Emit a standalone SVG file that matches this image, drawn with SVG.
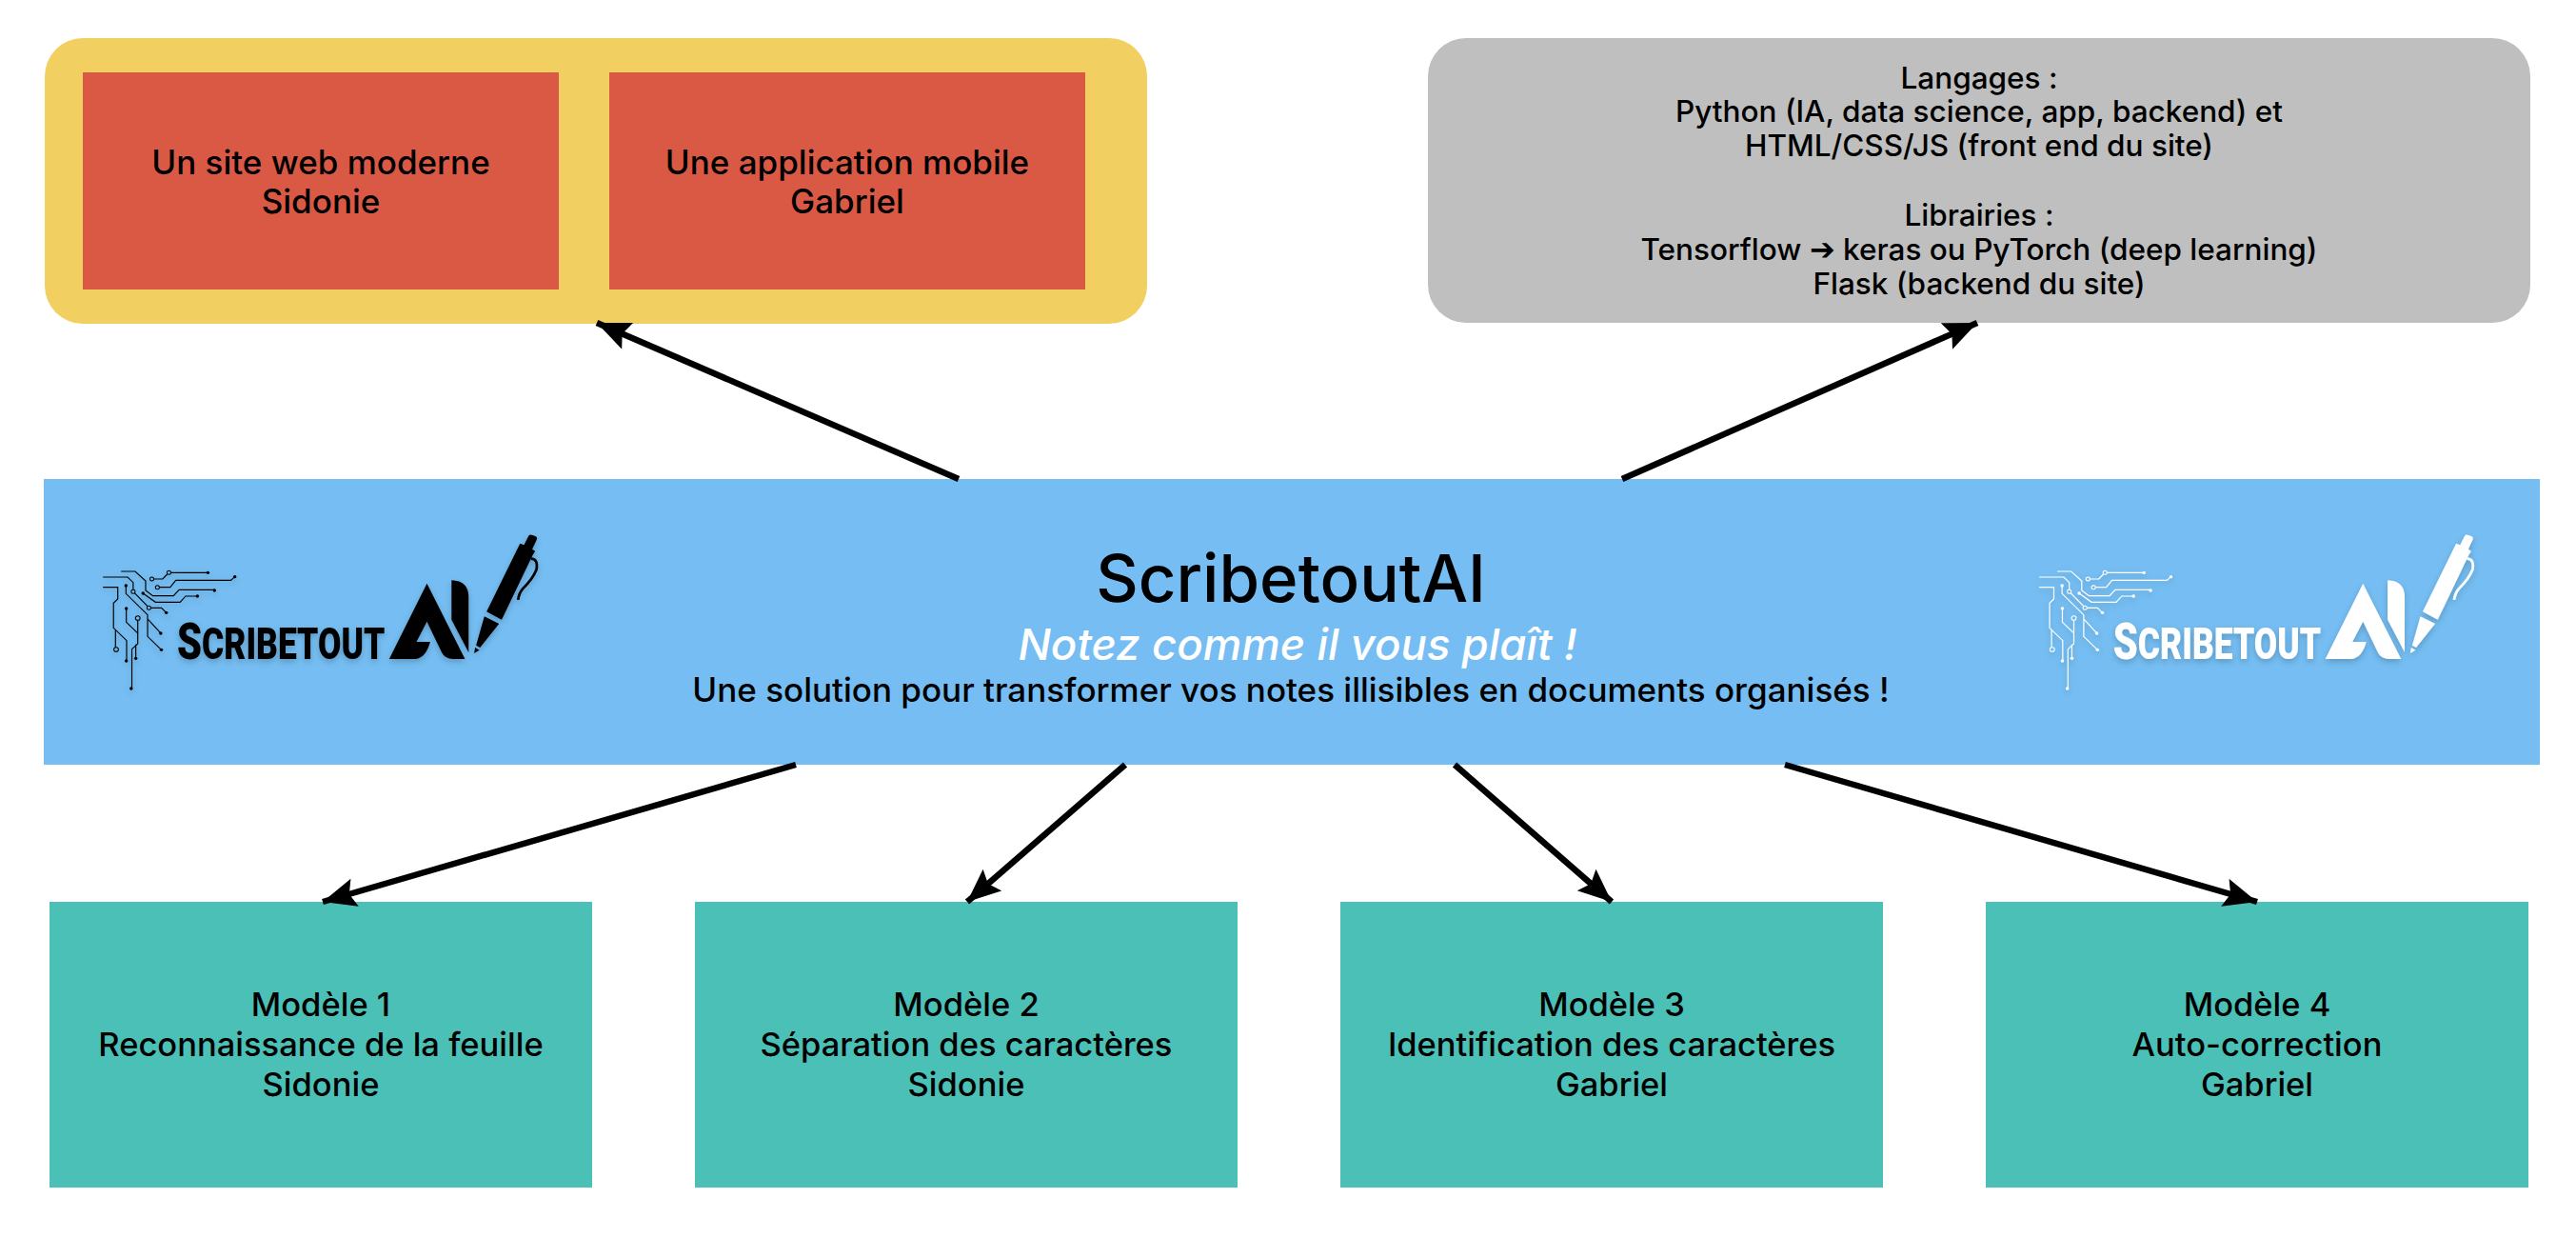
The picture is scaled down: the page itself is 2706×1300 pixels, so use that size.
<svg xmlns="http://www.w3.org/2000/svg" width="2706" height="1300" viewBox="0 0 2706 1300">
<style>
text{font-family:"Inter","Liberation Sans",sans-serif;font-weight:500;fill:#000;text-anchor:middle}
.t{font-size:34.5px}
.u{font-size:35px}
.g{font-size:31.5px}
.red{fill:#DA5945}
.teal{fill:#4BC0B6}
.line{stroke:#000;stroke-width:6.5;fill:none;marker-end:url(#ah)}
.logo-b{color:#000}
.logo-w{color:#fff}
.c{fill:none;stroke:currentColor;stroke-width:3.4}
.d{fill:currentColor}
.r{fill:none;stroke:currentColor;stroke-width:3}
.lt{font-family:"Roboto","Liberation Sans",sans-serif;font-weight:900;fill:currentColor;text-anchor:start}
</style>
<defs>
<marker id="ah" markerUnits="userSpaceOnUse" markerWidth="38" markerHeight="32" refX="35" refY="15" orient="auto">
<path d="M0,0 L35,15 L0,30 L6,15 Z" fill="#000"/>
</marker>
<filter id="ds" x="-10%" y="-10%" width="120%" height="120%"><feDropShadow dx="0" dy="3" stdDeviation="3" flood-color="#000" flood-opacity=".2"/></filter>
</defs>
<rect width="2706" height="1300" fill="#fff"/>

<g id="output-frame">
<rect x="47" y="40" width="1158" height="300" rx="40" fill="#F1CF61"/>
</g>
<g id="site-web">
<rect class="red" x="87" y="76" width="500" height="228"/>
<text class="u" x="337" y="183">Un site web moderne</text>
<text class="u" x="337" y="224">Sidonie</text>
</g>
<g id="app-mobile">
<rect class="red" x="640" y="76" width="500" height="228"/>
<text class="u" x="890" y="183">Une application mobile</text>
<text class="u" x="890" y="224">Gabriel</text>
</g>
<g id="stack">
<rect x="1500" y="40" width="1158" height="299" rx="40" fill="#BFBFBF"/>
<text class="g" x="2079" y="93">Langages :</text>
<text class="g" x="2079" y="128">Python (IA, data science, app, backend) et</text>
<text class="g" x="2079" y="164">HTML/CSS/JS (front end du site)</text>
<text class="g" x="2079" y="237">Librairies :</text>
<text class="g" x="2079" y="273">Tensorflow ➔ keras ou PyTorch (deep learning)</text>
<text class="g" x="2079" y="309">Flask (backend du site)</text>
</g>
<g id="main">
<rect x="46" y="503" width="2622" height="300" fill="#75BDF2"/>
<text x="1356" y="632" font-size="69">ScribetoutAI</text>
<text x="1363" y="693" font-size="45.6" font-style="italic" style="fill:#fff">Notez comme il vous plaît !</text>
<text x="1356" y="737" font-size="35">Une solution pour transformer vos notes illisibles en documents organisés !</text>
</g>
<g id="logo-dark" class="logo-b" filter="url(#ds)">
<g transform="translate(60,530) scale(.3444,.3333)">
<path class="c" d="M195,210H238L270,240V270L292,287H355L372,268H480"/>
<path class="c" d="M140,228H215L232,245V268M236,278L276,320M286,325H318L333,340"/>
<path class="c" d="M140,260H185V297L172,310V388L212,428V492M178,392V450"/>
<path class="c" d="M210,255V280L276,347V415L318,457M276,360L316,405"/>
<path class="c" d="M211,327V370L246,405V364M246,405V438L228,455V578M240,440V484"/>
<path class="c" d="M295,234H322L336,219M347,214H460"/>
<path class="c" d="M312,260H345L362,238H530L542,227"/>
<path class="c" d="M262,279L300,307H375L392,288H428"/>
<g class="d"><circle cx="460" cy="214" r="5"/><circle cx="542" cy="227" r="5"/><circle cx="480" cy="270" r="5"/><circle cx="428" cy="288" r="5"/><circle cx="333" cy="340" r="5"/><circle cx="316" cy="405" r="5"/><circle cx="318" cy="457" r="5"/><circle cx="210" cy="255" r="5"/><circle cx="262" cy="279" r="5"/><circle cx="211" cy="327" r="5"/><circle cx="211" cy="492" r="5"/><circle cx="240" cy="484" r="5"/><circle cx="226" cy="579" r="5"/></g>
<g class="r"><circle cx="289" cy="234" r="6"/><circle cx="341" cy="214" r="6"/><circle cx="306" cy="260" r="6"/><circle cx="232" cy="274" r="6"/><circle cx="280" cy="325" r="6"/><circle cx="246" cy="357" r="7"/><circle cx="180" cy="456" r="7"/></g>
<g class="d">
<path d="M1128,248L1013,486H1093Q1125,482 1138,432H1096L1128,368L1173,465Q1183,486 1208,486H1244Z"/>
<path d="M1203,238Q1255,240 1255,290V465L1203,362Z"/>
<path d="M1310,337L1412,122L1424,127L1438,98Q1442,92 1450,96L1460,100Q1466,104 1462,112L1449,140L1458,146L1450,160L1356,362Z"/>
<path d="M1303,352L1348,375L1290,450L1278,443Z"/>
<path d="M1272,468L1275,450L1288,458Z"/>
</g>
<path d="M1445,170Q1468,170 1462,205Q1450,235 1420,265Q1408,280 1406,300" fill="none" stroke="currentColor" stroke-width="8"/>
</g>
<text class="lt" transform="translate(186,692) scale(.77,1)" x="0" y="0" font-size="54">S<tspan font-size="46">CRIBETOUT</tspan></text>
</g>
<g id="logo-light" class="logo-w" filter="url(#ds)">
<g transform="translate(2093.8,530) scale(.3444,.3333)">
<path class="c" d="M195,210H238L270,240V270L292,287H355L372,268H480"/>
<path class="c" d="M140,228H215L232,245V268M236,278L276,320M286,325H318L333,340"/>
<path class="c" d="M140,260H185V297L172,310V388L212,428V492M178,392V450"/>
<path class="c" d="M210,255V280L276,347V415L318,457M276,360L316,405"/>
<path class="c" d="M211,327V370L246,405V364M246,405V438L228,455V578M240,440V484"/>
<path class="c" d="M295,234H322L336,219M347,214H460"/>
<path class="c" d="M312,260H345L362,238H530L542,227"/>
<path class="c" d="M262,279L300,307H375L392,288H428"/>
<g class="d"><circle cx="460" cy="214" r="5"/><circle cx="542" cy="227" r="5"/><circle cx="480" cy="270" r="5"/><circle cx="428" cy="288" r="5"/><circle cx="333" cy="340" r="5"/><circle cx="316" cy="405" r="5"/><circle cx="318" cy="457" r="5"/><circle cx="210" cy="255" r="5"/><circle cx="262" cy="279" r="5"/><circle cx="211" cy="327" r="5"/><circle cx="211" cy="492" r="5"/><circle cx="240" cy="484" r="5"/><circle cx="226" cy="579" r="5"/></g>
<g class="r"><circle cx="289" cy="234" r="6"/><circle cx="341" cy="214" r="6"/><circle cx="306" cy="260" r="6"/><circle cx="232" cy="274" r="6"/><circle cx="280" cy="325" r="6"/><circle cx="246" cy="357" r="7"/><circle cx="180" cy="456" r="7"/></g>
<g class="d">
<path d="M1128,248L1013,486H1093Q1125,482 1138,432H1096L1128,368L1173,465Q1183,486 1208,486H1244Z"/>
<path d="M1203,238Q1255,240 1255,290V465L1203,362Z"/>
<path d="M1310,337L1412,122L1424,127L1438,98Q1442,92 1450,96L1460,100Q1466,104 1462,112L1449,140L1458,146L1450,160L1356,362Z"/>
<path d="M1303,352L1348,375L1290,450L1278,443Z"/>
<path d="M1272,468L1275,450L1288,458Z"/>
</g>
<path d="M1445,170Q1468,170 1462,205Q1450,235 1420,265Q1408,280 1406,300" fill="none" stroke="currentColor" stroke-width="8"/>
</g>
<text class="lt" transform="translate(2219.8,692) scale(.77,1)" x="0" y="0" font-size="54">S<tspan font-size="46">CRIBETOUT</tspan></text>
</g>
<g id="modele-1">
<rect class="teal" x="52" y="947" width="570" height="300"/>
<text class="t" x="337" y="1067">Modèle 1</text>
<text class="t" x="337" y="1109">Reconnaissance de la feuille</text>
<text class="t" x="337" y="1151">Sidonie</text>
</g>
<g id="modele-2">
<rect class="teal" x="730" y="947" width="570" height="300"/>
<text class="t" x="1015" y="1067">Modèle 2</text>
<text class="t" x="1015" y="1109">Séparation des caractères</text>
<text class="t" x="1015" y="1151">Sidonie</text>
</g>
<g id="modele-3">
<rect class="teal" x="1408" y="947" width="570" height="300"/>
<text class="t" x="1693" y="1067">Modèle 3</text>
<text class="t" x="1693" y="1109">Identification des caractères</text>
<text class="t" x="1693" y="1151">Gabriel</text>
</g>
<g id="modele-4">
<rect class="teal" x="2086" y="947" width="570" height="300"/>
<text class="t" x="2371" y="1067">Modèle 4</text>
<text class="t" x="2371" y="1109">Auto-correction</text>
<text class="t" x="2371" y="1151">Gabriel</text>
</g>
<g id="connectors">
<line class="line" x1="1007" y1="503" x2="627" y2="339"/>
<line class="line" x1="1704" y1="503" x2="2077" y2="339"/>
<line class="line" x1="836" y1="803" x2="339" y2="947"/>
<line class="line" x1="1182" y1="803" x2="1016" y2="947"/>
<line class="line" x1="1528" y1="803" x2="1693" y2="947"/>
<line class="line" x1="1875" y1="803" x2="2371" y2="947"/>
</g>
</svg>
